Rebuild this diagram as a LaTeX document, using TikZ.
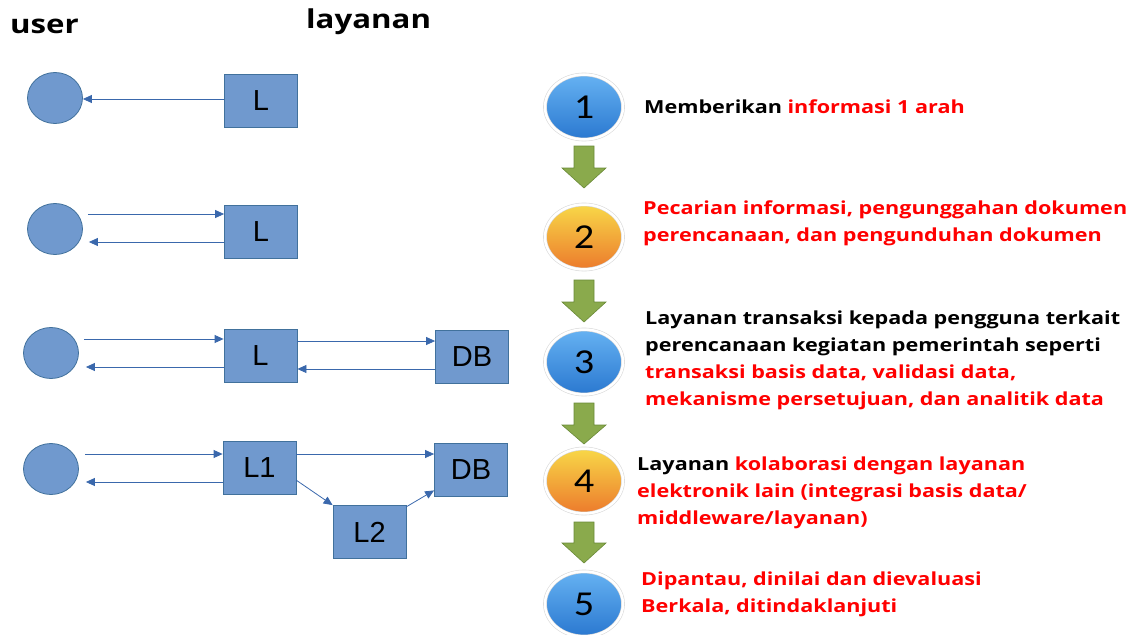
\documentclass[tikz,border=0pt]{standalone}
\usepackage{fontspec}
\setmainfont{Open Sans}
\newfontfamily\descfont[FakeStretch=1.2]{Open Sans}
\newfontfamily\numfont[FakeStretch=1.15]{Carlito}
\newfontfamily\boxfont{Liberation Sans}
\usetikzlibrary{shapes.geometric,arrows.meta}
\definecolor{boxfill}{HTML}{7099CE}
\definecolor{boxedge}{HTML}{41719C}
\definecolor{lineblue}{HTML}{3A68AC}
\definecolor{txtred}{HTML}{FF0000}
\definecolor{arrgreen}{HTML}{8AAA4C}
\definecolor{arredge}{HTML}{6A8A38}
\definecolor{blueTop}{HTML}{66B2F2}
\definecolor{blueBot}{HTML}{2A78D0}
\definecolor{orTop}{HTML}{F8D848}
\definecolor{orBot}{HTML}{EC7A2C}
\tikzset{
  userc/.style={ellipse, draw=boxedge, fill=boxfill, line width=0.8pt, minimum width=55pt, minimum height=51pt, inner sep=0pt},
  lbox/.style={rectangle, draw=boxedge, fill=boxfill, line width=0.8pt, minimum width=73pt, minimum height=53pt, inner sep=0pt, font=\boxfont\fontsize{29}{29}\selectfont},
  conn/.style={draw=lineblue, line width=0.8pt, -{Triangle[length=9pt,width=8pt]}},
  stepc/.style={ellipse, draw=gray!30, double=white, double distance=2.5pt, line width=0.6pt, minimum width=78pt, minimum height=65pt, inner sep=0pt, font=\numfont\fontsize{35}{35}\selectfont},
  bluec/.style={stepc, top color=blueTop, bottom color=blueBot},
  orc/.style={stepc, top color=orTop, bottom color=orBot},
  desc/.style={anchor=west, align=left, inner sep=0pt, font=\descfont\bfseries\fontsize{18}{27}\selectfont},
  garrow/.style={fill=arrgreen, draw=arredge, line width=0.6pt},
  title/.style={anchor=west, inner sep=0pt, font=\descfont\bfseries\fontsize{26}{26}\selectfont}
}
\begin{document}
\begin{tikzpicture}[x=1pt,y=-1pt]
\useasboundingbox (0,0) rectangle (1134,634);
% titles
\node[title] (tuser) at (10,26) {user};
\node[title] (tlay) at (306,22) {layanan};
% row 1
\node[userc] (u1) at (55,98) {};
\node[lbox] (l1) at (261,101) {L};
\draw[conn] (l1.west |- 0,99) -- (u1.east |- 0,99);
% row 2
\node[userc] (u2) at (55,229) {};
\node[lbox] (l2) at (261,231.5) {L};
\draw[conn] ([xshift=5pt]u2.east |- 0,214) -- (l2.west |- 0,214);
\draw[conn] (l2.west |- 0,242) -- ([xshift=6pt]u2.east |- 0,242);
% row 3
\node[userc] (u3) at (51,353) {};
\node[lbox] (l3) at (260.5,355.5) {L};
\node[lbox] (db3) at (472,357) {DB};
\draw[conn] ([xshift=5pt]u3.east |- 0,339) -- (l3.west |- 0,339);
\draw[conn] (l3.west |- 0,367) -- ([xshift=7pt]u3.east |- 0,367);
\draw[conn] (l3.east |- 0,341) -- (db3.west |- 0,341);
\draw[conn] (db3.west |- 0,369) -- (l3.east |- 0,369);
% row 4
\node[userc] (u4) at (51,469) {};
\node[lbox] (l41) at (259.5,468) {L1};
\node[lbox] (db4) at (471,469.5) {DB};
\node[lbox] (l42) at (369.5,532) {L2};
\draw[conn] ([xshift=6pt]u4.east |- 0,454) -- (l41.west |- 0,454);
\draw[conn] (l41.west |- 0,482) -- ([xshift=7pt]u4.east |- 0,482);
\draw[conn] (l41.east |- 0,454) -- (db4.west |- 0,454);
\coordinate (a1) at (296,480);
\coordinate (a2) at (406,507);
\draw[conn] (a1) -- (l42.north west);
\draw[conn] (a2) -- ([yshift=6pt]db4.south west);
% steps
\node[bluec] (s1) at (584,107) {1};
\node[orc] (s2) at (584,237) {2};
\node[bluec] (s3) at (584,362) {3};
\node[orc] (s4) at (584,481) {4};
\node[bluec] (s5) at (584,604) {5};
% green arrows
\foreach \t/\h/\e in {146/168/188, 280/302/322, 403/425/444, 522/543/563}{
  \draw[garrow] (574,\t) -- (594,\t) -- (594,\h) -- (606,\h) -- (584,\e) -- (562,\h) -- (574,\h) -- cycle;
}
% descriptions
\node[desc] (d1) at (644,107) {Memberikan \textcolor{txtred}{informasi 1 arah}};
\node[desc, text=txtred] (d2) at (643,223.5) {Pecarian informasi, pengunggahan dokumen\\perencanaan, dan pengunduhan dokumen};
\node[desc] (d3) at (645,360.5) {Layanan transaksi kepada pengguna terkait\\perencanaan kegiatan pemerintah seperti\\\textcolor{txtred}{transaksi basis data, validasi data,}\\\textcolor{txtred}{mekanisme persetujuan, dan analitik data}};
\node[desc] (d4) at (637,493) {Layanan \textcolor{txtred}{kolaborasi dengan layanan}\\\textcolor{txtred}{elektronik lain (integrasi basis data/}\\\textcolor{txtred}{middleware/layanan)}};
\node[desc, text=txtred] (d5) at (641,594) {Dipantau, dinilai dan dievaluasi\\Berkala, ditindaklanjuti};
\end{tikzpicture}
\end{document}
